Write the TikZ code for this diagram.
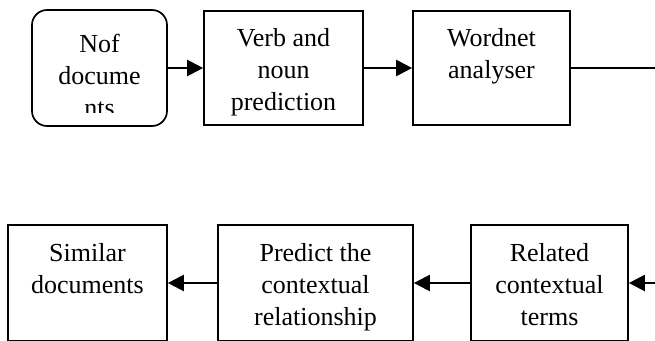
\documentclass[tikz,border=0pt]{standalone}
\usepackage{fontspec}
\setmainfont{Liberation Serif}
\usetikzlibrary{arrows.meta}
\begin{document}
\begin{tikzpicture}[x=1pt,y=-1pt,
  box/.style={draw=black,line width=1.7pt,inner sep=0pt,minimum width=#1},
  txt/.style={align=center,inner sep=0pt,anchor=base,font=\fontsize{26}{32}\selectfont},
  arr/.style={line width=2.3pt,-{Triangle[length=16pt,width=16pt]}},
  lin/.style={line width=2.3pt}]
\useasboundingbox[clip] (0,0) rectangle (655,340);
% top row
\node[box=135pt,minimum height=116pt,rounded corners=15pt] (b1) at (99.5,68) {};
\node[box=159pt,minimum height=114pt] (b2) at (283.5,68) {};
\node[box=157pt,minimum height=114pt] (b3) at (491.5,68) {};
\begin{scope}
\clip (33,11) rectangle (166,112);
\node[txt] (t1) at (99.5,116) {Nof\\docume\\nts};
\end{scope}
\node[txt] (t2) at (283.5,110) {Verb and\\noun\\prediction};
\node[txt] (t3) at (491.5,78) {Wordnet\\analyser};
\coordinate (r1) at (656,68);
\draw[arr] (b1.east) -- (b2.west);
\draw[arr] (b2.east) -- (b3.west);
\draw[lin] (b3.east) -- (r1);
% bottom row
\node[box=159pt,minimum height=116pt] (c1) at (87.5,283) {};
\node[box=195pt,minimum height=116pt] (c2) at (315.5,283) {};
\node[box=157pt,minimum height=116pt] (c3) at (549.5,283) {};
\node[txt] (u1) at (87.5,293) {Similar\\documents};
\node[txt] (u2) at (315.5,325) {Predict the\\contextual\\relationship};
\node[txt] (u3) at (549.5,325) {Related\\contextual\\terms};
\coordinate (r2) at (656,283);
\draw[arr] (c2.west) -- (c1.east);
\draw[arr] (c3.west) -- (c2.east);
\draw[arr] (r2) -- (c3.east);
\end{tikzpicture}
\end{document}
